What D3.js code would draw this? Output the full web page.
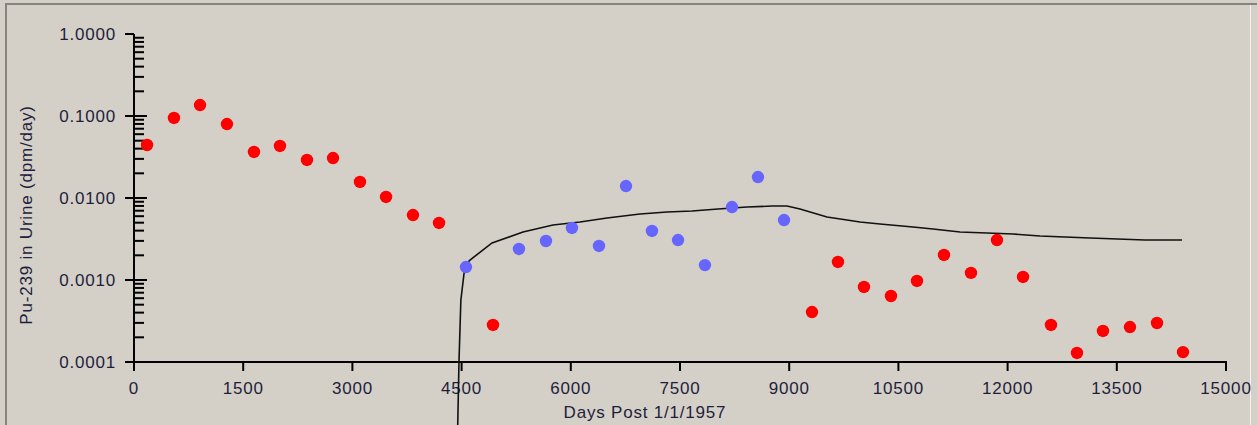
<!DOCTYPE html>
<html>
<head>
<meta charset="utf-8">
<script src="https://cdn.jsdelivr.net/npm/d3@7"></script>
<style>
  html, body { margin: 0; padding: 0; background: #D4D0C8; }
  svg { display: block; }
  text { font-family: "Liberation Sans", Arial, sans-serif; fill: #1e1e3c; }
</style>
</head>
<body>
<svg id="chart" width="1257" height="425"></svg>
<script>
// ---- Data ----
const redDays  = [179, 549, 907, 1277, 1648, 2005, 2376, 2734, 3104, 3462, 3832, 4190, 4931,
                  9313, 9670, 10027, 10398, 10755, 11126, 11497, 11854, 12212, 12596, 12953, 13310, 13681, 14052, 14409];
const redVals  = [0.0443, 0.0946, 0.136, 0.0798, 0.0364, 0.0431, 0.0291, 0.0307, 0.0157, 0.0103, 0.0062, 0.00496, 0.000283,
                  0.000407, 0.00166, 0.000822, 0.000638, 0.000973, 0.00202, 0.00122, 0.00307, 0.00109, 0.000283, 0.000129, 0.000239, 0.000267, 0.000299, 0.000132];
const blueDays = [4560, 5288, 5659, 6016, 6387, 6758, 7115, 7473, 7843, 8214, 8571, 8929];
const blueVals = [0.00144, 0.00239, 0.00299, 0.00431, 0.00260, 0.0140, 0.00396, 0.00307, 0.00152, 0.00776, 0.0180, 0.00539];
const curveDays = [4430, 4464, 4490, 4547, 4615, 4918, 5343, 5755, 6126, 6497, 6951, 7321, 7665, 8022, 8420, 8764, 8970,
                   9148, 9519, 9794, 9973, 10247, 10701, 10975, 11346, 11717, 12074, 12445, 13132, 13887, 14396];
const curveVals = [0.000003, 0.0001, 0.00057, 0.00152, 0.00175, 0.00283, 0.00385, 0.00469, 0.00510, 0.00571, 0.00638, 0.00675, 0.00694, 0.00734, 0.00776, 0.00798, 0.00798,
                   0.00734, 0.00586, 0.00539, 0.00510, 0.00482, 0.00443, 0.00419, 0.00385, 0.00374, 0.00364, 0.00344, 0.00325, 0.00307, 0.00307];
const xTicks = [0, 1500, 3000, 4500, 6000, 7500, 9000, 10500, 12000, 13500, 15000];
const yTicks = [1, 0.1, 0.01, 0.001, 0.0001];
const xTitle = "Days Post 1/1/1957";
const yTitle = "Pu-239 in Urine (dpm/day)";

// ---- Chart ----
const svg = d3.select("#chart");
const x = d3.scaleLinear().domain([0, 15000]).range([134, 1226]);
const y = d3.scaleLog().domain([0.0001, 1]).range([362, 34]);

// frame
svg.append("line").attr("x1", 5).attr("x2", 1257).attr("y1", 4).attr("y2", 4)
  .attr("stroke", "#858580").attr("stroke-width", 2);
svg.append("line").attr("x1", 6).attr("x2", 6).attr("y1", 4).attr("y2", 425)
  .attr("stroke", "#858580").attr("stroke-width", 2);
svg.append("line").attr("x1", 1250.5).attr("x2", 1250.5).attr("y1", 5).attr("y2", 425)
  .attr("stroke", "#f4f2ee").attr("stroke-width", 1);

const g = svg.append("g");

// y axis line
g.append("line").attr("x1", x(0)).attr("x2", x(0)).attr("y1", y(1)).attr("y2", y(0.0001))
  .attr("stroke", "#000").attr("stroke-width", 2);
// x axis line
g.append("line").attr("x1", x(0) - 9).attr("x2", x(15000) + 1).attr("y1", y(0.0001)).attr("y2", y(0.0001))
  .attr("stroke", "#000").attr("stroke-width", 2);

// y minor ticks
const minor = [];
[0.0001, 0.001, 0.01, 0.1].forEach(d => { for (let k = 2; k <= 9; k++) minor.push(d * k); });
g.selectAll(".ymin").data(minor).join("line")
  .attr("x1", x(0)).attr("x2", x(0) + 10)
  .attr("y1", d => y(d)).attr("y2", d => y(d))
  .attr("stroke", "#000").attr("stroke-width", 2);
// y major ticks
g.selectAll(".ymaj").data(yTicks).join("line")
  .attr("x1", x(0) - 9).attr("x2", d => (d === 1 || d === 0.0001) ? x(0) : x(0) + 13)
  .attr("y1", d => y(d)).attr("y2", d => y(d))
  .attr("stroke", "#000").attr("stroke-width", 2);
g.selectAll(".ylab").data(yTicks).join("text")
  .attr("x", 116).attr("y", d => y(d) + 6)
  .attr("text-anchor", "end").attr("font-size", 17).attr("letter-spacing", 0.8)
  .text(d => d.toFixed(4));

// x ticks
g.selectAll(".xt").data(xTicks).join("line")
  .attr("x1", d => x(d)).attr("x2", d => x(d))
  .attr("y1", y(0.0001)).attr("y2", y(0.0001) + 9)
  .attr("stroke", "#000").attr("stroke-width", 2);
g.selectAll(".xlab").data(xTicks).join("text")
  .attr("x", d => x(d)).attr("y", 394)
  .attr("text-anchor", "middle").attr("font-size", 17).attr("letter-spacing", 0.8)
  .text(d => d);

// titles
g.append("text").attr("x", 645).attr("y", 418).attr("text-anchor", "middle")
  .attr("font-size", 17).attr("letter-spacing", 0.8).text(xTitle);
g.append("text").attr("transform", "translate(32,215) rotate(-90)").attr("text-anchor", "middle")
  .attr("font-size", 17).attr("letter-spacing", 0.8).text(yTitle);

// model curve
const curve = curveDays.map((d, i) => [d, curveVals[i]]);
g.append("path").datum(curve)
  .attr("fill", "none").attr("stroke", "#111").attr("stroke-width", 1.6)
  .attr("d", d3.line().x(d => x(d[0])).y(d => y(d[1])));

// points
g.selectAll(".red").data(redDays.map((d, i) => [d, redVals[i]])).join("circle")
  .attr("cx", d => x(d[0])).attr("cy", d => y(d[1])).attr("r", 6.2)
  .attr("fill", "#ff0000");
g.selectAll(".blue").data(blueDays.map((d, i) => [d, blueVals[i]])).join("circle")
  .attr("cx", d => x(d[0])).attr("cy", d => y(d[1])).attr("r", 6.2)
  .attr("fill", "#6666ff");
</script>
</body>
</html>
